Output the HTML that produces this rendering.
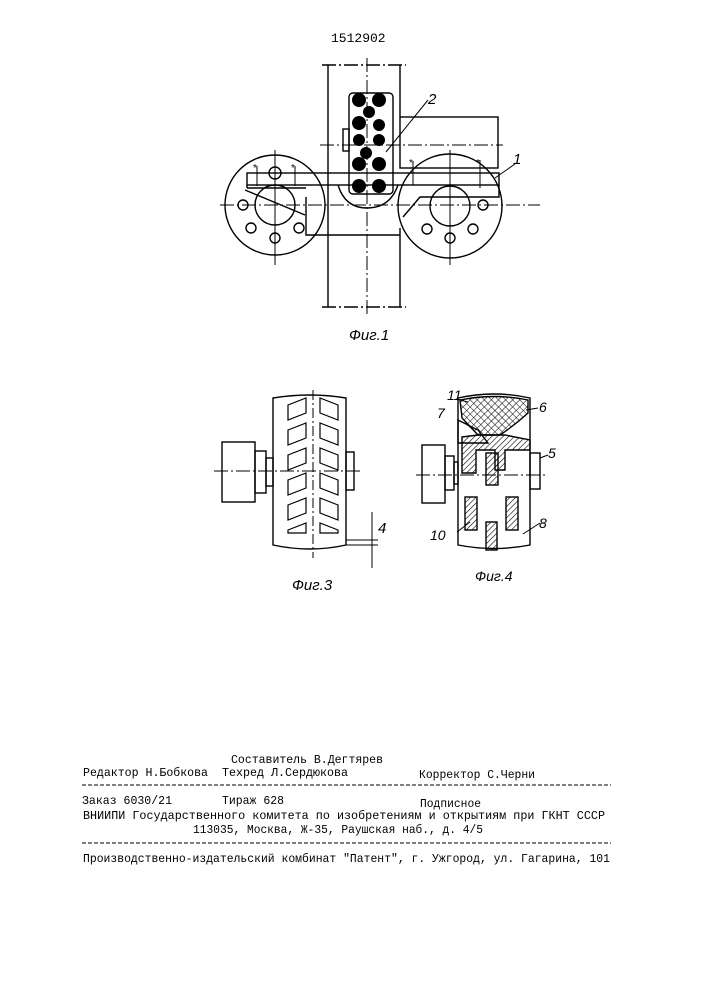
<!DOCTYPE html>
<html><head><meta charset="utf-8"><style>body{margin:0;background:#fff}svg{display:block}</style></head>
<body>
<svg width="707" height="1000" viewBox="0 0 707 1000" xmlns="http://www.w3.org/2000/svg">
<defs>
<pattern id="h" width="4" height="4" patternUnits="userSpaceOnUse" patternTransform="rotate(45)"><line x1="0" y1="0" x2="0" y2="4" stroke="#000" stroke-width="1.2"/></pattern>
<pattern id="x" width="5" height="5" patternUnits="userSpaceOnUse" patternTransform="rotate(45)"><path d="M0 0V5M0 0H5" stroke="#000" stroke-width="1"/></pattern>
</defs>
<g fill="none" stroke="#000" stroke-width="1.4" font-family="Liberation Sans, sans-serif">
<text x="331" y="42" font-size="13" fill="#000" stroke="none" font-family="Liberation Mono, monospace">1512902</text>
<!-- Fig 1 -->
<line x1="322" y1="65" x2="406" y2="65" stroke-dasharray="14 3 2 3"/>
<line x1="322" y1="307" x2="406" y2="307" stroke-dasharray="14 3 2 3"/>
<line x1="328" y1="65" x2="328" y2="307"/>
<line x1="400" y1="65" x2="400" y2="117"/>
<line x1="400" y1="228" x2="400" y2="307"/>
<line x1="367" y1="58" x2="367" y2="315" stroke-dasharray="14 3 2 3" stroke-width="1"/>
<line x1="220" y1="205" x2="540" y2="205" stroke-dasharray="14 3 2 3" stroke-width="1"/>
<line x1="320" y1="145" x2="503" y2="145" stroke-dasharray="14 3 2 3" stroke-width="1"/>
<rect x="349" y="93" width="44" height="101" rx="4"/>
<rect x="343" y="129" width="6" height="22"/>
<g fill="#000" stroke="none">
<circle cx="359" cy="100" r="7"/><circle cx="379" cy="100" r="7"/><circle cx="369" cy="112" r="6"/>
<circle cx="359" cy="123" r="7"/><circle cx="379" cy="125" r="6"/><circle cx="359" cy="140" r="6"/><circle cx="379" cy="140" r="6"/>
<circle cx="366" cy="153" r="6"/><circle cx="359" cy="164" r="7"/><circle cx="379" cy="164" r="7"/>
<circle cx="359" cy="186" r="7"/><circle cx="379" cy="186" r="7"/></g>
<rect x="400" y="117" width="98" height="51"/>
<rect x="247" y="173" width="252" height="12"/>
<line x1="247" y1="185" x2="247" y2="188"/><line x1="247" y1="188" x2="306" y2="188"/>
<path d="M338 185 Q345 208 367 208 Q390 208 398 185"/>
<circle cx="275" cy="205" r="50"/><circle cx="275" cy="205" r="20"/>
<circle cx="450" cy="206" r="52"/><circle cx="450" cy="206" r="20"/>
<path d="M306 197 V235 H400"/>
<path d="M403 217 L420 197 H499 V185"/>
<path d="M245 190 L305 215"/>
<g>
<circle cx="243" cy="205" r="5"/><circle cx="275" cy="173" r="6"/><circle cx="275" cy="238" r="5"/><circle cx="251" cy="228" r="5"/><circle cx="299" cy="228" r="5"/>
<circle cx="483" cy="205" r="5"/><circle cx="450" cy="238" r="5"/><circle cx="427" cy="229" r="5"/><circle cx="473" cy="229" r="5"/>
</g>
<g stroke-width="1">
<line x1="275" y1="150" x2="275" y2="265"/><line x1="450" y1="150" x2="450" y2="265"/>
<line x1="257" y1="166" x2="257" y2="186"/><line x1="295" y1="166" x2="295" y2="186"/>
<line x1="413" y1="161" x2="413" y2="185"/><line x1="480" y1="160" x2="480" y2="188"/>
</g>
<g font-size="10" fill="#000" stroke="none"><text x="253" y="171">*</text><text x="291" y="171">*</text><text x="409" y="166">*</text><text x="476" y="166">*</text></g>
<line x1="386" y1="152" x2="428" y2="100" stroke-width="1"/>
<line x1="495" y1="178" x2="515" y2="164" stroke-width="1"/>
<g font-style="italic" font-size="15" fill="#000" stroke="none"><text x="428" y="104">2</text><text x="513" y="164">1</text>
<text x="349" y="340">Фиг.1</text></g>
<!-- Fig 3 -->
<path d="M273 398 Q310 392 346 398 V545 Q310 553 273 545 Z"/>
<line x1="313" y1="390" x2="313" y2="558" stroke-dasharray="10 3 2 3" stroke-width="1"/>
<rect x="222" y="442" width="33" height="60"/><rect x="255" y="451" width="11" height="42"/><rect x="266" y="458" width="7" height="28"/>
<rect x="346" y="452" width="8" height="38"/>
<line x1="214" y1="471" x2="360" y2="471" stroke-dasharray="14 3 2 3" stroke-width="1"/>
<g stroke-width="1.2">
<path d="M288 405 L306 398 V413 L288 420Z"/><path d="M288 430 L306 423 V438 L288 445Z"/><path d="M288 455 L306 448 V463 L288 470Z"/><path d="M288 480 L306 473 V488 L288 495Z"/><path d="M288 505 L306 498 V513 L288 520Z"/><path d="M288 530 L306 523 V533 L288 533Z"/>
<path d="M338 405 L320 398 V413 L338 420Z"/><path d="M338 430 L320 423 V438 L338 445Z"/><path d="M338 455 L320 448 V463 L338 470Z"/><path d="M338 480 L320 473 V488 L338 495Z"/><path d="M338 505 L320 498 V513 L338 520Z"/><path d="M338 530 L320 523 V533 L338 533Z"/>
</g>
<line x1="346" y1="540" x2="378" y2="540" stroke-width="1"/><line x1="346" y1="545" x2="378" y2="545" stroke-width="1"/>
<line x1="372" y1="512" x2="372" y2="568" stroke-width="1"/>
<g font-style="italic" font-size="15" fill="#000" stroke="none"><text x="378" y="533">4</text><text x="292" y="590">Фиг.3</text></g>
<!-- Fig 4 -->
<path d="M458 398 Q494 390 530 398 V545 Q494 552 458 545 Z"/>
<path d="M460 400 Q494 393 528 400 V413 Q515 425 500 435 H478 L462 418Z" fill="url(#x)"/>
<path d="M458 420 L478 430 L488 443 H458Z" fill="none"/>
<path d="M462 437 L478 435 H505 L530 440 V450 H505 V470 H495 V450 H476 V473 H462Z" fill="url(#h)"/>
<rect x="486" y="453" width="12" height="32" fill="url(#h)"/>
<rect x="465" y="497" width="12" height="33" fill="url(#h)"/>
<rect x="506" y="497" width="12" height="33" fill="url(#h)"/>
<rect x="486" y="522" width="11" height="28" fill="url(#h)"/>
<rect x="422" y="445" width="23" height="58"/><rect x="445" y="456" width="9" height="34"/><rect x="454" y="462" width="4" height="22"/>
<rect x="530" y="453" width="10" height="36"/>
<line x1="416" y1="475" x2="548" y2="475" stroke-dasharray="14 3 2 3" stroke-width="1"/>
<g stroke-width="1"><line x1="456" y1="399" x2="468" y2="402"/><line x1="538" y1="408" x2="526" y2="410"/><line x1="465" y1="423" x2="474" y2="430"/><line x1="548" y1="455" x2="540" y2="458"/><line x1="457" y1="532" x2="470" y2="522"/><line x1="540" y1="523" x2="523" y2="534"/></g>
<g font-style="italic" font-size="14" fill="#000" stroke="none"><text x="447" y="400">11</text><text x="539" y="412">6</text><text x="437" y="418">7</text><text x="548" y="458">5</text><text x="430" y="540">10</text><text x="539" y="528">8</text><text x="475" y="581">Фиг.4</text></g>
</g>
<g font-family="Liberation Mono, monospace" font-size="12.3" fill="#000">
<text x="231" y="763" textLength="152" lengthAdjust="spacingAndGlyphs">Составитель В.Дегтярев</text>
<text x="83" y="776" textLength="125" lengthAdjust="spacingAndGlyphs">Редактор Н.Бобкова</text>
<text x="222" y="776" textLength="126" lengthAdjust="spacingAndGlyphs">Техред Л.Сердюкова</text>
<text x="419" y="778" textLength="116" lengthAdjust="spacingAndGlyphs">Корректор С.Черни</text>
<text x="82" y="804" textLength="90" lengthAdjust="spacingAndGlyphs">Заказ 6030/21</text>
<text x="222" y="804" textLength="62" lengthAdjust="spacingAndGlyphs">Тираж 628</text>
<text x="420" y="807" textLength="61" lengthAdjust="spacingAndGlyphs">Подписное</text>
<text x="83" y="819" textLength="522" lengthAdjust="spacingAndGlyphs">ВНИИПИ Государственного комитета по изобретениям и открытиям при ГКНТ СССР</text>
<text x="193" y="833" textLength="290" lengthAdjust="spacingAndGlyphs">113035, Москва, Ж-35, Раушская наб., д. 4/5</text>
<text x="83" y="862" textLength="527" lengthAdjust="spacingAndGlyphs">Производственно-издательский комбинат "Патент", г. Ужгород, ул. Гагарина, 101</text>
</g>
<line x1="82" y1="785" x2="611" y2="785" stroke="#000" stroke-dasharray="4 2"/>
<line x1="82" y1="843" x2="611" y2="843" stroke="#000" stroke-dasharray="4 2"/>
</svg>
</body></html>
